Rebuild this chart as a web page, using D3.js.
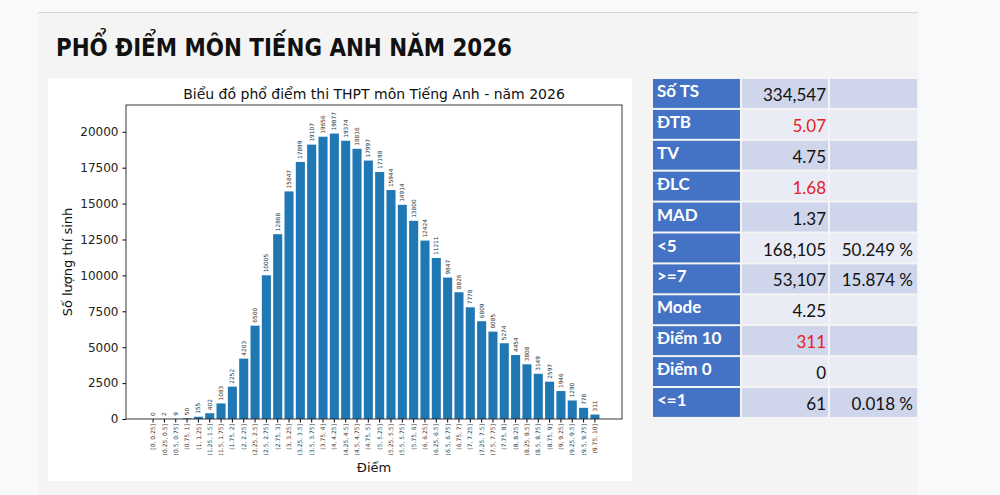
<!DOCTYPE html>
<html>
<head>
<meta charset="utf-8">
<script src="https://cdn.jsdelivr.net/npm/d3@7"></script>
<style>
  body { margin: 0; background: #f8f9fb; }
  svg { display: block; }
</style>
</head>
<body>
<svg id="chart" width="1000" height="495"></svg>
<script>
// Score bins (40 bins of 0.25)
const binLabels = [
  "[0, 0.25]", "(0.25, 0.5]", "(0.5, 0.75]", "(0.75, 1]", "(1, 1.25]", "(1.25, 1.5]", "(1.5, 1.75]", "(1.75, 2]",
  "(2, 2.25]", "(2.25, 2.5]", "(2.5, 2.75]", "(2.75, 3]", "(3, 3.25]", "(3.25, 3.5]", "(3.5, 3.75]", "(3.75, 4]",
  "(4, 4.25]", "(4.25, 4.5]", "(4.5, 4.75]", "(4.75, 5]", "(5, 5.25]", "(5.25, 5.5]", "(5.5, 5.75]", "(5.75, 6]",
  "(6, 6.25]", "(6.25, 6.5]", "(6.5, 6.75]", "(6.75, 7]", "(7, 7.25]", "(7.25, 7.5]", "(7.5, 7.75]", "(7.75, 8]",
  "(8, 8.25]", "(8.25, 8.5]", "(8.5, 8.75]", "(8.75, 9]", "(9, 9.25]", "(9.25, 9.5]", "(9.5, 9.75]", "(9.75, 10]"
];

// Number of candidates per bin
const counts = [
  0, 2, 9, 50, 155, 402, 1083, 2252,
  4203, 6500, 10005, 12868, 15847, 17899, 19107, 19656,
  19877, 19374, 18816, 17997, 17198, 15944, 14914, 13800,
  12424, 11211, 9847, 8826, 7778, 6809, 6085, 5274,
  4454, 3808, 3149, 2597, 1946, 1290, 778, 311
];

const yTicks = [0, 2500, 5000, 7500, 10000, 12500, 15000, 17500, 20000];

// Stats table
const statLabels = ["Số TS", "ĐTB", "TV", "ĐLC", "MAD", "<5", ">=7", "Mode", "Điểm 10", "Điểm 0", "<=1"];
const statValues = ["334,547", "5.07", "4.75", "1.68", "1.37", "168,105", "53,107", "4.25", "311", "0", "61"];
const statPercents = ["", "", "", "", "", "50.249 %", "15.874 %", "", "", "", "0.018 %"];
const statRed = ["ĐTB", "ĐLC", "Điểm 10"];

const svg = d3.select("#chart");

// Card background
svg.append("rect").attr("x", 38).attr("y", 12).attr("width", 880).attr("height", 490)
  .attr("fill", "#f4f4f4");
svg.append("line").attr("x1", 38).attr("x2", 918).attr("y1", 12.5).attr("y2", 12.5)
  .attr("stroke", "#d6d6d6").attr("stroke-width", 1);

// Page title
svg.append("text")
  .attr("x", 56).attr("y", 56)
  .attr("font-family", "'DejaVu Sans Condensed', 'Liberation Sans Narrow', sans-serif")
  .attr("font-weight", "bold")
  .attr("font-size", 25)
  .attr("textLength", 456)
  .attr("lengthAdjust", "spacingAndGlyphs")
  .attr("fill", "#111")
  .text("PHỔ ĐIỂM MÔN TIẾNG ANH NĂM 2026");

// Chart image panel
svg.append("rect").attr("x", 48).attr("y", 78).attr("width", 584).attr("height", 403).attr("fill", "#fff");

const margin = { left: 126, right: 622, top: 105, bottom: 419 };
const chartFont = "'DejaVu Sans', sans-serif";

const xScale = d3.scaleBand()
  .domain(binLabels)
  .range([margin.left, margin.right])
  .paddingInner(0.2)
  .paddingOuter(1.99);

const yScale = d3.scaleLinear()
  .domain([0, d3.max(counts) * 1.1])
  .range([margin.bottom, margin.top]);

const g = svg.append("g");

// Bars
g.selectAll("rect.bar")
  .data(counts)
  .join("rect")
  .attr("class", "bar")
  .attr("x", (d, i) => xScale(binLabels[i]))
  .attr("y", d => yScale(d))
  .attr("width", xScale.bandwidth())
  .attr("height", d => yScale(0) - yScale(d))
  .attr("fill", "#1f77b4");

// Bar value labels (rotated)
g.selectAll("text.val")
  .data(counts)
  .join("text")
  .attr("class", "val")
  .attr("transform", (d, i) =>
    `translate(${xScale(binLabels[i]) + xScale.bandwidth() / 2 + 2},${yScale(d) - 3}) rotate(-90)`)
  .attr("font-family", chartFont)
  .attr("font-size", 5.8)
  .attr("fill", "#333")
  .text(d => d);

// Axes
const xAxis = g.append("g")
  .attr("transform", `translate(0,${margin.bottom})`)
  .call(d3.axisBottom(xScale).tickSize(3.5).tickSizeOuter(0));
xAxis.select(".domain").remove();
xAxis.selectAll("text")
  .attr("font-family", chartFont)
  .attr("font-size", 6)
  .attr("fill", "#333")
  .attr("text-anchor", "end")
  .attr("dy", "0.35em")
  .attr("transform", "translate(0,5) rotate(-90)")
  .attr("x", 0).attr("y", 0);

const yAxis = g.append("g")
  .attr("transform", `translate(${margin.left},0)`)
  .call(d3.axisLeft(yScale).tickValues(yTicks).tickSize(3.5).tickPadding(4).tickFormat(d3.format("d")));
yAxis.select(".domain").remove();
yAxis.selectAll("text").attr("font-family", chartFont).attr("font-size", 12).attr("fill", "#222");

// Axes frame
g.append("rect")
  .attr("x", margin.left).attr("y", margin.top)
  .attr("width", margin.right - margin.left).attr("height", margin.bottom - margin.top)
  .attr("fill", "none").attr("stroke", "#222").attr("stroke-width", 0.9);

// Titles
svg.append("text")
  .attr("x", (margin.left + margin.right) / 2).attr("y", 99)
  .attr("text-anchor", "middle")
  .attr("font-family", chartFont).attr("font-size", 14).attr("fill", "#111")
  .text("Biểu đồ phổ điểm thi THPT môn Tiếng Anh - năm 2026");

svg.append("text")
  .attr("x", (margin.left + margin.right) / 2).attr("y", 472)
  .attr("text-anchor", "middle")
  .attr("font-family", chartFont).attr("font-size", 13).attr("fill", "#111")
  .text("Điểm");

svg.append("text")
  .attr("transform", `translate(72,${(margin.top + margin.bottom) / 2}) rotate(-90)`)
  .attr("text-anchor", "middle")
  .attr("font-family", chartFont).attr("font-size", 13).attr("fill", "#111")
  .text("Số lượng thí sinh");

// Stats table
const tableTop = 79, rowH = 30.9;
const cols = [{ x: 653, w: 87 }, { x: 742, w: 86 }, { x: 830, w: 87 }];
const tableFont = "Lato, 'Open Sans', sans-serif";

const rows = svg.append("g").selectAll("g.row")
  .data(statLabels)
  .join("g")
  .attr("class", "row")
  .attr("transform", (d, i) => `translate(0,${tableTop + i * rowH})`);

rows.append("rect").attr("x", cols[0].x).attr("width", cols[0].w).attr("height", rowH - 2)
  .attr("fill", "#4472c4");
rows.append("rect").attr("x", cols[1].x).attr("width", cols[1].w).attr("height", rowH - 2)
  .attr("fill", (d, i) => i % 2 === 0 ? "#cfd5ea" : "#e9ebf5");
rows.append("rect").attr("x", cols[2].x).attr("width", cols[2].w).attr("height", rowH - 2)
  .attr("fill", (d, i) => i % 2 === 0 ? "#cfd5ea" : "#e9ebf5");

rows.append("text")
  .attr("x", cols[0].x + 4).attr("y", 18)
  .attr("font-family", tableFont).attr("font-weight", "bold").attr("font-size", 17)
  .attr("fill", "#fff")
  .text(d => d);

rows.append("text")
  .attr("x", cols[1].x + cols[1].w - 2).attr("y", 22)
  .attr("text-anchor", "end")
  .attr("font-family", tableFont).attr("font-size", 17)
  .attr("fill", d => statRed.includes(d) ? "#e52222" : "#111")
  .text((d, i) => statValues[i]);

rows.append("text")
  .attr("x", cols[2].x + cols[2].w - 4).attr("y", 22)
  .attr("text-anchor", "end")
  .attr("font-family", tableFont).attr("font-size", 17)
  .attr("fill", "#111")
  .text((d, i) => statPercents[i]);
</script>
</body>
</html>
